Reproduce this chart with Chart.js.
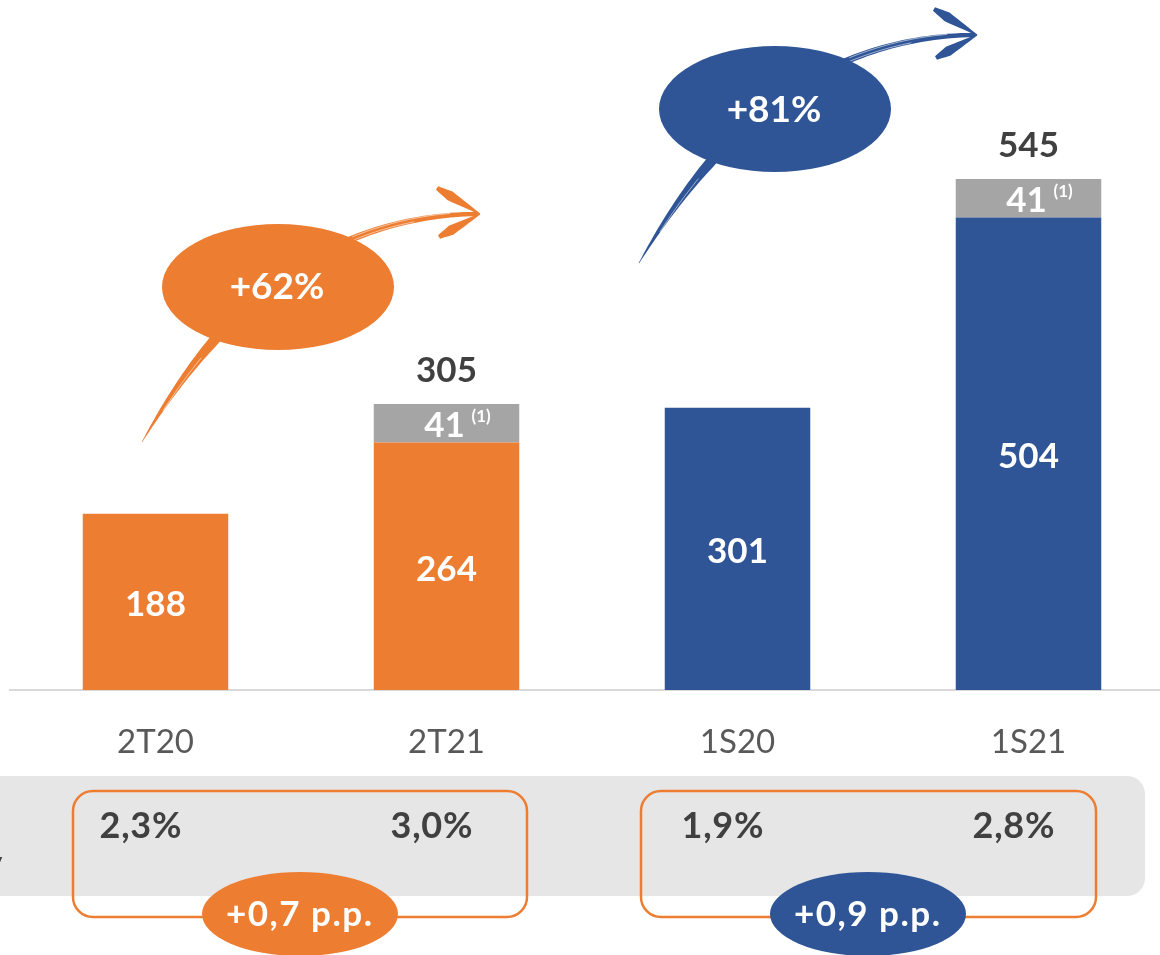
<!DOCTYPE html>
<html>
<head>
<meta charset="utf-8">
<title>Resultado</title>
<script src="https://cdn.jsdelivr.net/npm/chart.js@4.4.0/dist/chart.umd.min.js"></script>
<style>
    html, body { margin: 0; padding: 0; background: #fff; overflow: hidden; }
    #wrap { position: relative; width: 1174px; height: 955px; }
</style>
</head>
<body>
<div id="wrap"><canvas id="bars"></canvas></div>
<script>
var categories = ['2T20', '2T21', '1S20', '1S21'];
var baseValues = [188, 264, 301, 504];
var extraValues = [null, 41, null, 41];
var ratioLabels = ['2,3%', '3,0%', '1,9%', '2,8%'];
var growthLabels = ['+62%', '+81%'];
var deltaLabels = ['+0,7 p.p.', '+0,9 p.p.'];

var ORANGE = '#ED7D31', BLUE = '#2F5597', GRAY = '#A5A5A5', DARK = '#404040';
var FONT = 'Lato, "Open Sans", sans-serif';
var barColors = [ORANGE, ORANGE, BLUE, BLUE];

!function () {
    "use strict";

    // text centred on the cap height
    function text(ctx, str, x, cy, size, color, align, weight, spacing) {
        ctx.font = (weight || 'bold') + ' ' + size + 'px ' + FONT;
        ctx.fillStyle = color;
        ctx.textAlign = align || 'center';
        ctx.textBaseline = 'alphabetic';
        ctx.letterSpacing = (spacing || 0) + 'px';
        ctx.fillText(str, x + (spacing || 0) / 2, cy + size * 0.358);
        ctx.letterSpacing = '0px';
    }

    function ellipse(ctx, cx, cy, rx, ry, color) {
        ctx.beginPath();
        ctx.ellipse(cx, cy, rx, ry, 0, 0, Math.PI * 2);
        ctx.fillStyle = color;
        ctx.fill();
    }

    function roundRect(ctx, x, y, w, h, r) {
        ctx.beginPath();
        ctx.moveTo(x + r, y);
        ctx.arcTo(x + w, y, x + w, y + h, r);
        ctx.arcTo(x + w, y + h, x, y + h, r);
        ctx.arcTo(x, y + h, x, y, r);
        ctx.arcTo(x, y, x + w, y, r);
        ctx.closePath();
    }

    function bez(p, t) {
        var u = 1 - t;
        return [u * u * u * p[0][0] + 3 * u * u * t * p[1][0] + 3 * u * t * t * p[2][0] + t * t * t * p[3][0],
                u * u * u * p[0][1] + 3 * u * u * t * p[1][1] + 3 * u * t * t * p[2][1] + t * t * t * p[3][1]];
    }

    function tapered(ctx, pts, widths, color) {
        var left = [], right = [];
        for (var i = 0; i < pts.length; i++) {
            var a = pts[Math.max(0, i - 1)], b = pts[Math.min(pts.length - 1, i + 1)];
            var dx = b[0] - a[0], dy = b[1] - a[1], L = Math.hypot(dx, dy) || 1;
            var nx = -dy / L, ny = dx / L, h = widths[i] / 2;
            left.push([pts[i][0] + nx * h, pts[i][1] + ny * h]);
            right.push([pts[i][0] - nx * h, pts[i][1] - ny * h]);
        }
        ctx.beginPath();
        ctx.moveTo(left[0][0], left[0][1]);
        left.forEach(function (p) { ctx.lineTo(p[0], p[1]); });
        for (var j = right.length - 1; j >= 0; j--) ctx.lineTo(right[j][0], right[j][1]);
        ctx.closePath();
        ctx.fillStyle = color;
        ctx.fill();
    }

    // brush-like curved arrow, drawn relative to an offset
    function arrow(ctx, ox, oy, color) {
        var P = [[142, 442], [190, 360], [290, 215], [478, 214]].map(function (p) { return [p[0] + ox, p[1] + oy]; });
        var pts = [], ws = [];
        for (var k = 0; k <= 80; k++) {
            var t = k / 80;
            pts.push(bez(P, t));
            ws.push(t < 0.35 ? 0.5 + 28 * t : 10.3 - (t - 0.35) / 0.65 * 6);
        }
        tapered(ctx, pts, ws, color);
        // streaks
        ctx.save();
        ctx.strokeStyle = 'rgba(255,255,255,0.7)';
        ctx.lineWidth = 0.8;
        [[0.12, 0.3, 1.5], [0.75, 0.95, -1.8], [0.7, 0.88, 1.6]].forEach(function (s) {
            ctx.beginPath();
            for (var q = 0; q <= 20; q++) {
                var tt = s[0] + (s[1] - s[0]) * q / 20;
                var p = bez(P, tt), p2 = bez(P, Math.min(1, tt + 0.01));
                var dx = p2[0] - p[0], dy = p2[1] - p[1], L = Math.hypot(dx, dy) || 1;
                var x = p[0] - dy / L * s[2], y = p[1] + dx / L * s[2];
                if (q === 0) ctx.moveTo(x, y); else ctx.lineTo(x, y);
            }
            ctx.stroke();
        });
        ctx.restore();
        var tip = [480 + ox, 214 + oy];
        [[437, 188], [439, 237]].forEach(function (e) {
            var bp = [], bw = [];
            for (var k = 0; k <= 10; k++) {
                var t = k / 10;
                bp.push([e[0] + ox + (tip[0] - e[0] - ox) * t, e[1] + oy + (tip[1] - e[1] - oy) * t]);
                bw.push(t < 0.3 ? 4 + 20 * t : 10 - 9 * (t - 0.3) / 0.7);
            }
            tapered(ctx, bp, bw, color);
        });
    }

    var decor = {
        id: 'decor',
        afterDatasetsDraw: function (chart) {
            var ctx = chart.ctx;
            var base = chart.getDatasetMeta(0).data;
            var extra = chart.getDatasetMeta(1).data;
            ctx.save();
            base.forEach(function (bar, i) {
                text(ctx, String(baseValues[i]), bar.x, (bar.y + bar.base) / 2 + 2, 35, '#fff');
            });
            extra.forEach(function (bar, i) {
                if (extraValues[i] == null) return;
                var cy = (bar.y + bar.base) / 2;
                text(ctx, String(extraValues[i]), bar.x - 2, cy + 1, 35, '#fff');
                text(ctx, '(1)', bar.x + 25, cy - 7, 17, '#fff', 'left');
                text(ctx, String(baseValues[i] + extraValues[i]), bar.x, bar.y - 35, 35, DARK);
            });
            ctx.restore();
        },
        afterDraw: function (chart) {
            var ctx = chart.ctx;
            var xs = chart.scales.x;
            ctx.save();

            // growth arrows and bubbles
            arrow(ctx, 0, 0, ORANGE);
            arrow(ctx, 497, -179, BLUE);
            ellipse(ctx, 278, 287, 116, 63, ORANGE);
            ellipse(ctx, 775, 109, 116, 63, BLUE);
            text(ctx, growthLabels[0], 277, 286, 37, '#fff');
            text(ctx, growthLabels[1], 774, 109, 37, '#fff');

            // ratio panel
            roundRect(ctx, -30, 776, 1175, 120, 18);
            ctx.fillStyle = '#E7E6E6';
            ctx.fill();
            text(ctx, 'y', -13, 862, 30, DARK, 'left', 'normal');

            ctx.lineWidth = 2.5;
            ctx.strokeStyle = ORANGE;
            roundRect(ctx, 73, 791, 454, 126, 20);
            ctx.stroke();
            roundRect(ctx, 641, 791, 455, 126, 20);
            ctx.stroke();

            ratioLabels.forEach(function (lbl, i) {
                text(ctx, lbl, xs.getPixelForValue(i) - 15, 825, 36, DARK, 'center', 'bold', 0.8);
            });

            ellipse(ctx, 300, 914, 98, 42, ORANGE);
            ellipse(ctx, 868, 914, 98, 42, BLUE);
            text(ctx, deltaLabels[0], 299, 913, 35, '#fff', 'center', 'bold', 1.5);
            text(ctx, deltaLabels[1], 867, 913, 35, '#fff', 'center', 'bold', 1.5);
            ctx.restore();
        }
    };

    function draw() {
        var ctx = document.getElementById('bars').getContext('2d');
        new Chart(ctx, {
            type: 'bar',
            data: {
                labels: categories,
                datasets: [{
                    label: 'base',
                    data: baseValues,
                    backgroundColor: barColors,
                    barPercentage: 1,
                    categoryPercentage: 0.5
                }, {
                    label: 'extra',
                    data: extraValues,
                    backgroundColor: GRAY,
                    barPercentage: 1,
                    categoryPercentage: 0.5
                }]
            },
            options: {
                responsive: true,
                maintainAspectRatio: false,
                animation: false,
                events: [],
                layout: {padding: {left: 10, right: 0, top: 0, bottom: 0}},
                plugins: {legend: {display: false}, tooltip: {enabled: false}},
                scales: {
                    x: {
                        stacked: true,
                        grid: {display: false, drawTicks: false},
                        border: {display: true, color: '#D9D9D9', width: 2},
                        ticks: {color: '#595959', font: {family: FONT, size: 33}, padding: 33},
                        afterFit: function (s) { s.height = 265; }
                    },
                    y: {stacked: true, display: false, min: 0, max: 736}
                }
            },
            plugins: [decor]
        });
    }

    if (document.fonts && document.fonts.load) {
        Promise.all([document.fonts.load('bold 30px Lato'), document.fonts.load('30px Lato')]).then(draw, draw);
    } else {
        draw();
    }
}();
</script>
</body>
</html>
